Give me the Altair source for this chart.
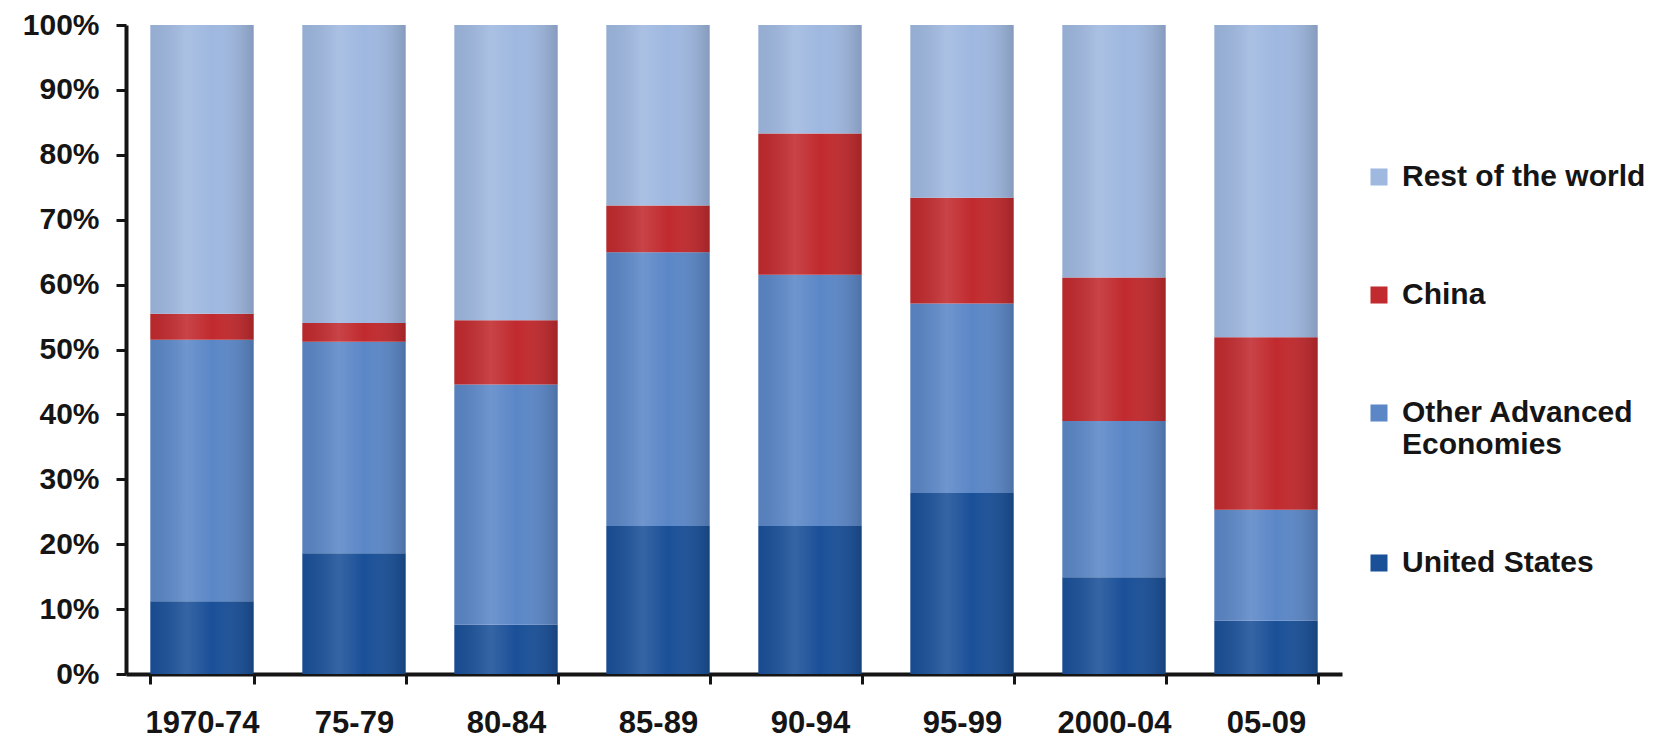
import altair as alt
import pandas as pd

periods = ["1970-74", "75-79", "80-84", "85-89", "90-94", "95-99", "2000-04", "05-09"]
series = ["United States", "Other Advanced Economies", "China", "Rest of the world"]

# shares in percent
united_states = [11.2, 18.6, 7.6, 22.8, 22.8, 27.9, 14.9, 8.2]
other_advanced = [40.3, 32.6, 37.0, 42.2, 38.7, 29.2, 24.1, 17.1]
china = [4.0, 2.9, 9.9, 7.2, 21.8, 16.3, 22.1, 26.6]
rest_of_world = [44.5, 45.9, 45.5, 27.8, 16.7, 26.6, 38.9, 48.1]

legend_order = ["Rest of the world", "China", "Other Advanced Economies", "United States"]
legend_colors = ["#9fb8e0", "#c12a2e", "#5b87c7", "#1a5098"]

rows = []
for i, p in enumerate(periods):
    for k, (s, vals) in enumerate(zip(series, [united_states, other_advanced, china, rest_of_world])):
        rows.append({"period": p, "series": s, "share": vals[i] / 100.0, "order": k})
df = pd.DataFrame(rows)

FONT = "Liberation Sans"
INK = "#151515"

x_enc = alt.X(
    "period:N",
    sort=periods,
    scale=alt.Scale(paddingInner=0.32, paddingOuter=0.16),
    axis=alt.Axis(
        title=None, labelAngle=0, tickBand="extent", labelFontSize=31,
        labelPadding=24,
    ),
)

y_scale = alt.Scale(domain=[0, 1], nice=False)

bars = alt.Chart(df).mark_bar().encode(
    x=x_enc,
    y=alt.Y(
        "share:Q", stack="zero", scale=y_scale,
        axis=alt.Axis(
            title=None, format=".0%", values=[i / 10 for i in range(11)],
            grid=False, labelFontSize=30, labelPadding=17,
        ),
    ),
    color=alt.Color(
        "series:N",
        scale=alt.Scale(domain=legend_order, range=legend_colors),
        legend=alt.Legend(
            title=None, orient="none", legendX=1238, legendY=137,
            symbolType="square", symbolSize=290, symbolStrokeWidth=0,
            labelFont=FONT, labelFontSize=30, labelFontWeight="bold",
            labelColor=INK, labelLimit=500, rowPadding=88, labelOffset=8,
            labelExpr="datum.label == 'Other Advanced Economies' ? ['Other Advanced', 'Economies'] : datum.label",
        ),
    ),
    order=alt.Order("order:Q", sort="ascending"),
)

sheen = alt.Gradient(
    gradient="linear", x1=0, x2=1, y1=0, y2=0,
    stops=[
        alt.GradientStop(color="rgba(0,0,0,0.06)", offset=0),
        alt.GradientStop(color="rgba(255,255,255,0.12)", offset=0.35),
        alt.GradientStop(color="rgba(255,255,255,0.0)", offset=0.6),
        alt.GradientStop(color="rgba(0,0,0,0.16)", offset=1),
    ],
)

overlay = alt.Chart(df).mark_bar(fill=sheen).encode(
    x=alt.X("period:N", sort=periods),
    y=alt.Y("sum(share):Q", scale=y_scale),
)

chart = (
    alt.layer(bars, overlay)
    .properties(
        width=1216, height=649,
        autosize=alt.AutoSizeParams(type="none"),
        padding={"left": 126, "top": 25, "right": 324, "bottom": 64},
        background="white",
    )
    .configure_view(stroke=None)
    .configure_axis(
        labelFont=FONT, labelFontWeight="bold", labelColor=INK,
        domainColor=INK, domainWidth=4, tickColor=INK, tickWidth=3, tickSize=10,
    )
)

chart.save("out.html", embed_options={"renderer": "svg", "actions": False})
